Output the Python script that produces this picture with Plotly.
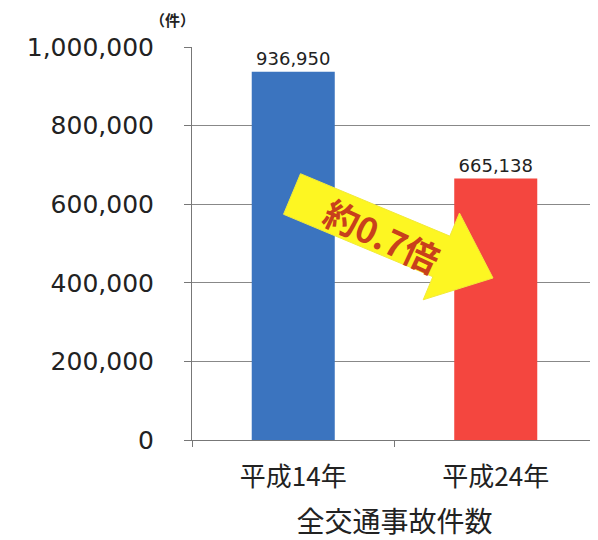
import math
import plotly.graph_objects as go

categories = ["平成14年", "平成24年"]
values = [936950, 665138]
value_labels = ["936,950", "665,138"]
colors = ["#3b74bf", "#f4463f"]
y_ticks = [0, 200000, 400000, 600000, 800000, 1000000]
y_tick_labels = ["0", "200,000", "400,000", "600,000", "800,000", "1,000,000"]

OFF = 8  # page body margin
W, H = 598 - OFF, 540 - OFF
ml, mr, mt, mb = 192 - OFF, 1, 47 - OFF, 100
pw, ph = W - ml - mr, H - mt - mb

def px(x, y):
    # page pixel -> paper coords
    return ((x - OFF - ml) / pw, (H - mb - (y - OFF)) / ph)

font_num = "DejaVu Sans, Liberation Sans, Arial"
font_jp = "Noto Sans CJK JP, DejaVu Sans"

fig = go.Figure(go.Bar(
    x=categories, y=values, marker_color=colors, marker_line_width=0,
    width=0.41, text=value_labels, textposition="outside",
    textfont=dict(size=18, color="#222", family=font_num), cliponaxis=False,
))

# arrow decoration
tail = (292, 194)
tip = (493, 278)
ang = math.atan2(tip[1] - tail[1], tip[0] - tail[0])
u = (math.cos(ang), math.sin(ang))
n = (-u[1], u[0])
L = math.hypot(tip[0] - tail[0], tip[1] - tail[1])
body = L - 56
hw, hh = 22, 47
pts = [
    (tail[0] - n[0] * hw, tail[1] - n[1] * hw),
    (tail[0] + u[0] * body - n[0] * hw, tail[1] + u[1] * body - n[1] * hw),
    (tail[0] + u[0] * body - n[0] * hh, tail[1] + u[1] * body - n[1] * hh),
    tip,
    (tail[0] + u[0] * body + n[0] * hh, tail[1] + u[1] * body + n[1] * hh),
    (tail[0] + u[0] * body + n[0] * hw, tail[1] + u[1] * body + n[1] * hw),
    (tail[0] + n[0] * hw, tail[1] + n[1] * hw),
]
path = "M " + " L ".join(f"{px(*p)[0]:.4f},{px(*p)[1]:.4f}" for p in pts) + " Z"
fig.add_shape(type="path", path=path, xref="paper", yref="paper",
              fillcolor="#fdf622", line=dict(color="#f2ea3a", width=1), layer="above")

cx, cy = px(382, 235)
fig.add_annotation(x=cx, y=cy, xref="paper", yref="paper", text="<b>約0.7倍</b>",
                   showarrow=False, textangle=25,
                   font=dict(size=35, color="#c8401c", family=font_jp))

ux, uy = px(197, 19)
fig.add_annotation(x=ux, y=uy, xref="paper", yref="paper", text="<b>（件）</b>",
                   showarrow=False, xanchor="right", yanchor="middle",
                   font=dict(size=15, color="#222", family=font_jp))

fig.update_layout(
    width=W, height=H,
    margin=dict(l=ml, r=mr, t=mt, b=mb, autoexpand=False),
    paper_bgcolor="white", plot_bgcolor="white",
    showlegend=False,
    xaxis=dict(
        showline=True, linecolor="#777", linewidth=1,
        ticks="outside", tickson="boundaries", ticklen=6, tickcolor="#777",
        ticklabelstandoff=14, automargin=False,
        tickfont=dict(size=26, color="#222", family=font_jp),
        title=dict(text="全交通事故件数", font=dict(size=28, color="#222", family=font_jp), standoff=35),
    ),
    yaxis=dict(
        range=[0, 1000000], tickvals=y_ticks, ticktext=y_tick_labels,
        showline=True, linecolor="#777", linewidth=1,
        ticks="outside", ticklen=7, tickcolor="#777",
        showgrid=True, gridcolor="#888", gridwidth=1,
        zeroline=False, ticklabelstandoff=25, automargin=False,
        tickfont=dict(size=25, color="#222", family=font_num),
    ),
)

fig.write_html("out.html")
